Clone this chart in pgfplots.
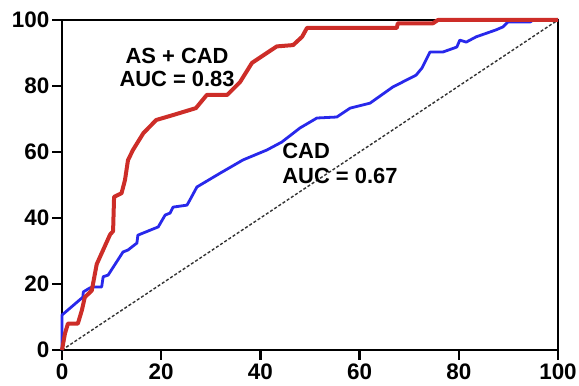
\documentclass[border=0pt]{standalone}
\usepackage{fontspec}
\setmainfont{Liberation Sans}
\usepackage{pgfplots}
\pgfplotsset{compat=1.18}
\definecolor{rocred}{RGB}{205,45,40}
\definecolor{rocblue}{RGB}{40,40,235}
\begin{document}
\begin{tikzpicture}
\useasboundingbox (-62bp,-36bp) rectangle (517bp,350bp);
\begin{axis}[
  at={(0,0)}, anchor=south west,
  scale only axis, width=496bp, height=330bp,
  xmin=0, xmax=100, ymin=0, ymax=100,
  xtick={0,20,40,60,80,100}, ytick={0,20,40,60,80,100},
  tick align=outside, major tick length=10bp,
  xtick pos=bottom, ytick pos=left,
  tick style={black, line width=2.5bp},
  axis line style={black, line width=2.8bp},
  /pgf/number format/assume math mode=true,
  tick label style={font=\fontsize{22.5}{22.5}\selectfont\bfseries},
  yticklabel style={inner sep=2.5bp},
  xticklabel style={inner sep=3.5bp},
  clip=false,
]
\addplot[black!80, line width=1.4bp, dash pattern=on 3bp off 2bp] coordinates {(0,0) (100,100)};
\addplot[rocblue, line width=2.8bp, line join=round] coordinates {
(0,0) (0,10.6) (4.2,16) (4.3,17.6) (5.6,18.8) (6.3,19.1) (8,19.1) (8.3,22.2)
(9.3,22.7) (12.3,29.7) (13.3,30.3) (15.1,32.4) (15.3,34.8) (19.4,37.3)
(20.8,40.9) (21.8,41.5) (22.4,43.3) (25.2,43.9) (25.8,45.5) (27.2,49.4)
(31.9,53.6) (36.5,57.6) (41.3,60.6) (44.3,63) (48,67.3) (51.4,70.3)
(55.4,70.6) (58.1,73.3) (62.1,74.8) (66.7,79.7) (71.4,83.3) (72.6,85.5)
(74.2,90.3) (76.8,90.3) (79.6,91.8) (80.2,93.9) (81.5,93.3) (83.5,94.9)
(87.5,97) (88.9,97.9) (89.9,99.4) (94.4,99.4) (95,100) (100,100)};
\addplot[rocred, line width=4bp, line join=round] coordinates {
(0,0) (0.6,5) (1.2,8) (3.2,8) (4,12) (4.6,16) (6,18) (7,26) (9.7,35)
(10.3,36) (10.5,46.4) (12,47.5) (12.7,51.5) (13.3,57.5) (14.3,60.6)
(16.4,65.7) (19,69.7) (22.4,71.2) (27,73.3) (29.2,77.3) (33.3,77.3)
(35.9,81.2) (38.3,87) (43.3,92) (46.6,92.4) (48.4,94.9) (49.4,97.6)
(67.5,97.6) (67.7,99) (74.8,99) (75.8,100) (100,100)};
\node[align=center, inner sep=0pt, font=\fontsize{22}{23}\selectfont\bfseries]
  at (axis cs:23.2,85.5) {AS + CAD\\AUC = 0.83};
\node[align=left, anchor=west, inner sep=0pt, font=\fontsize{22}{25}\selectfont\bfseries]
  at (axis cs:44.4,56.4) {CAD\\AUC = 0.67};
\end{axis}
\end{tikzpicture}
\end{document}
